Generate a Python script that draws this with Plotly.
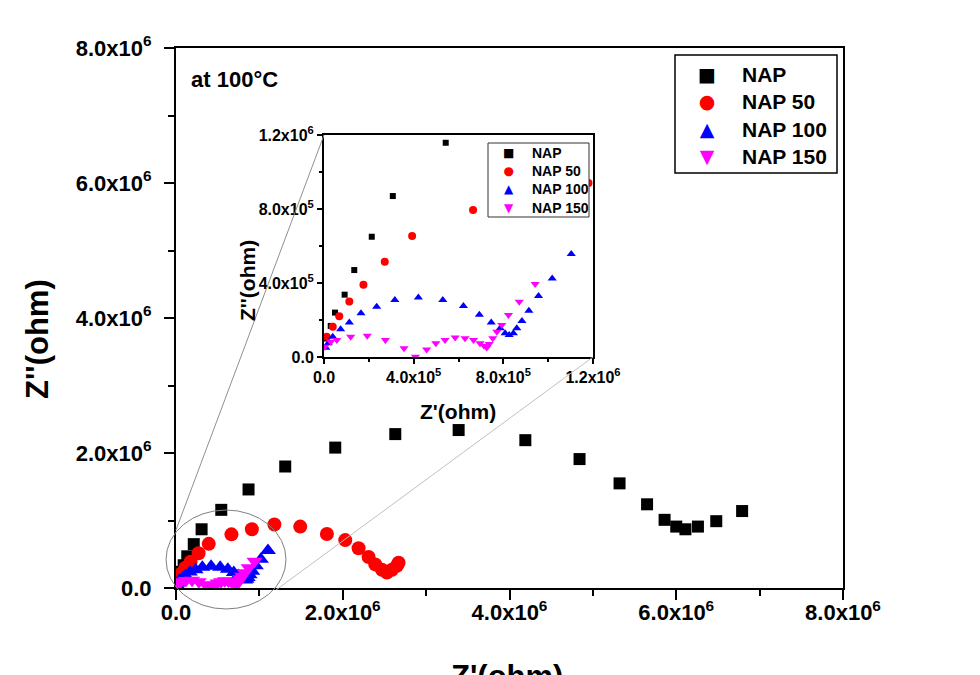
import plotly.graph_objects as go

# ---------------- data (ohm) ----------------
nap_x = [0.012e6, 0.030e6, 0.049e6, 0.092e6, 0.135e6, 0.213e6, 0.307e6, 0.543e6, 0.87e6, 1.31e6,
         1.91e6, 2.63e6, 3.39e6, 4.19e6, 4.84e6, 5.32e6, 5.65e6, 5.86e6, 6.00e6, 6.11e6,
         6.26e6, 6.48e6, 6.79e6]
nap_y = [0.10e6, 0.168e6, 0.24e6, 0.337e6, 0.47e6, 0.65e6, 0.87e6, 1.158e6, 1.46e6, 1.80e6,
         2.08e6, 2.28e6, 2.34e6, 2.19e6, 1.91e6, 1.55e6, 1.24e6, 1.01e6, 0.91e6, 0.87e6,
         0.91e6, 0.99e6, 1.14e6]

nap50_x = [0.012e6, 0.039e6, 0.068e6, 0.113e6, 0.176e6, 0.271e6, 0.393e6, 0.665e6, 0.91e6, 1.18e6,
           1.49e6, 1.81e6, 2.03e6, 2.19e6, 2.31e6, 2.39e6, 2.47e6, 2.53e6, 2.59e6, 2.65e6, 2.67e6]
nap50_y = [0.11e6, 0.164e6, 0.22e6, 0.30e6, 0.39e6, 0.515e6, 0.654e6, 0.795e6, 0.87e6, 0.94e6,
           0.91e6, 0.80e6, 0.71e6, 0.59e6, 0.46e6, 0.35e6, 0.27e6, 0.23e6, 0.27e6, 0.33e6, 0.375e6]

nap100_x = [0.008e6, 0.019e6, 0.039e6, 0.074e6, 0.113e6, 0.165e6, 0.235e6, 0.316e6, 0.421e6, 0.53e6,
            0.622e6, 0.693e6, 0.746e6, 0.786e6, 0.808e6, 0.826e6, 0.845e6, 0.86e6, 0.883e6, 0.914e6,
            0.957e6, 1.018e6, 1.103e6]
nap100_y = [0.05e6, 0.074e6, 0.11e6, 0.15e6, 0.187e6, 0.236e6, 0.272e6, 0.308e6, 0.321e6, 0.308e6,
            0.276e6, 0.229e6, 0.187e6, 0.155e6, 0.128e6, 0.119e6, 0.128e6, 0.155e6, 0.195e6, 0.25e6,
            0.33e6, 0.425e6, 0.557e6]

nap150_x = [0.004e6, 0.030e6, 0.057e6, 0.119e6, 0.193e6, 0.274e6, 0.357e6, 0.408e6, 0.458e6, 0.499e6,
            0.54e6, 0.585e6, 0.629e6, 0.667e6, 0.696e6, 0.714e6, 0.726e6, 0.737e6, 0.753e6, 0.771e6,
            0.793e6, 0.823e6, 0.871e6, 0.942e6]
nap150_y = [0.056e6, 0.083e6, 0.092e6, 0.11e6, 0.115e6, 0.092e6, 0.047e6, 0.002e6, 0.041e6, 0.074e6,
            0.092e6, 0.106e6, 0.101e6, 0.092e6, 0.074e6, 0.061e6, 0.052e6, 0.07e6, 0.101e6, 0.137e6,
            0.173e6, 0.227e6, 0.299e6, 0.395e6]

series_names = ["NAP", "NAP 50", "NAP 100", "NAP 150"]

main_tickvals = [0, 2e6, 4e6, 6e6, 8e6]
main_ticktext = ["0.0", "2.0x10<sup>6</sup>", "4.0x10<sup>6</sup>", "6.0x10<sup>6</sup>", "8.0x10<sup>6</sup>"]
inset_tickvals = [0, 4e5, 8e5, 1.2e6]
inset_ticktext = ["0.0", "4.0x10<sup>5</sup>", "8.0x10<sup>5</sup>", "1.2x10<sup>6</sup>"]

# ---------------- figure ----------------
FONT = "Liberation Sans, Arial, sans-serif"
colors = ["#000000", "#ff0000", "#0000ff", "#ff00ff"]
symbols = ["square", "circle", "triangle-up", "triangle-down"]
glyphs = ["\u25a0", "\u25cf", "\u25b2", "\u25bc"]
main_sizes = [12, 14, 14, 14]
inset_sizes = [6, 8, 8, 8]
data = [(nap_x, nap_y), (nap50_x, nap50_y), (nap100_x, nap100_y), (nap150_x, nap150_y)]

fig = go.Figure()
for (xs, ys), name, sym, col, sz in zip(data, series_names, symbols, colors, main_sizes):
    fig.add_trace(go.Scatter(x=xs, y=ys, mode="markers", name=name, showlegend=False,
                             marker=dict(symbol=sym, color=col, size=sz, line=dict(width=0)),
                             xaxis="x", yaxis="y"))
for (xs, ys), name, sym, col, sz in zip(data, series_names, symbols, colors, inset_sizes):
    fig.add_trace(go.Scatter(x=xs, y=ys, mode="markers", name=name, showlegend=False,
                             marker=dict(symbol=sym, color=col, size=sz, line=dict(width=0)),
                             xaxis="x2", yaxis="y2"))

# page-pixel geometry (page body has an 8px margin)
OFF = 8
PAGE_W, PAGE_H = 980, 675
L, R, T, B = 176, 843, 48, 588
pw, ph = R - L, B - T

def px(xp):
    return (xp - L) / pw

def py(yp):
    return (B - yp) / ph

axis_common = dict(showgrid=False, zeroline=False, showline=True, linecolor="black",
                   mirror=True, ticks="outside", tickcolor="black")

fig.update_layout(
    width=PAGE_W - OFF, height=PAGE_H - OFF,
    margin=dict(l=L - OFF, r=PAGE_W - R, t=T - OFF, b=PAGE_H - B, pad=0),
    paper_bgcolor="white", plot_bgcolor="white",
    font=dict(family=FONT, color="black"),
    showlegend=False,
    xaxis=dict(domain=[0, 1], range=[0, 8e6], anchor="y", linewidth=2, ticklen=10, tickwidth=2,
               tickvals=main_tickvals, ticktext=main_ticktext, ticklabelstandoff=-6,
               tickfont=dict(family=FONT, size=22, weight="bold"),
               minor=dict(ticks="outside", ticklen=6, tickwidth=2, dtick=1e6, tick0=0, tickcolor="black"),
               **axis_common),
    yaxis=dict(domain=[0, 1], range=[0, 8e6], anchor="x", linewidth=2, ticklen=10, tickwidth=2,
               tickvals=main_tickvals, ticktext=main_ticktext, ticklabelstandoff=8,
               tickfont=dict(family=FONT, size=22, weight="bold"),
               minor=dict(ticks="outside", ticklen=6, tickwidth=2, dtick=1e6, tick0=0, tickcolor="black"),
               **axis_common),
    xaxis2=dict(domain=[px(324), px(593)], range=[0, 1.2e6], anchor="y2", linewidth=2, ticklen=5,
                tickwidth=1.5, tickvals=inset_tickvals, ticktext=inset_ticktext,
                tickfont=dict(family=FONT, size=16, weight="bold"),
                minor=dict(ticks="outside", ticklen=3, tickwidth=1.5, dtick=2e5, tick0=0, tickcolor="black"),
                **axis_common),
    yaxis2=dict(domain=[py(357), py(135)], range=[0, 1.2e6], anchor="x2", linewidth=2, ticklen=5,
                tickwidth=1.5, tickvals=inset_tickvals, ticktext=inset_ticktext,
                tickfont=dict(family=FONT, size=16, weight="bold"),
                minor=dict(ticks="outside", ticklen=3, tickwidth=1.5, dtick=2e5, tick0=0, tickcolor="black"),
                **axis_common),
)

def legend_annots(sym_x, text_x, mid_y, fsize, sym_size):
    sym_text = "<br>".join(
        f"<span style='color:{c};font-size:{sym_size}px'>{g}</span>" for c, g in zip(colors, glyphs))
    name_text = "<br>".join(series_names)
    return [
        dict(text=sym_text, x=px(sym_x), y=py(mid_y), xref="paper", yref="paper", showarrow=False,
             font=dict(family="DejaVu Sans", size=fsize), xanchor="center", yanchor="middle", align="center"),
        dict(text=name_text, x=px(text_x), y=py(mid_y), xref="paper", yref="paper", showarrow=False,
             font=dict(family=FONT, size=fsize, weight="bold"), xanchor="left", yanchor="middle",
             align="left"),
    ]

annotations = [
    dict(text="Z''(ohm)", x=px(37), y=py(339), xref="paper", yref="paper", showarrow=False,
         textangle=-90, font=dict(family=FONT, size=31, weight="bold"), xanchor="center", yanchor="middle"),
    dict(text="Z'(ohm)", x=px(507), y=py(676), xref="paper", yref="paper", showarrow=False,
         font=dict(family=FONT, size=31, weight="bold"), xanchor="center", yanchor="middle"),
    dict(text="at 100\u00b0C", x=px(189), y=py(80), xref="paper", yref="paper", showarrow=False,
         font=dict(family=FONT, size=22, weight="bold"), xanchor="left", yanchor="middle"),
    dict(text="Z'(ohm)", x=px(458), y=py(411), xref="paper", yref="paper", showarrow=False,
         font=dict(family=FONT, size=21, weight="bold"), xanchor="center", yanchor="middle"),
    dict(text="Z''(ohm)", x=px(247), y=py(281), xref="paper", yref="paper", showarrow=False,
         textangle=-90, font=dict(family=FONT, size=21, weight="bold"), xanchor="center", yanchor="middle"),
]
annotations += legend_annots(707, 740, 115, 21, 19)
annotations += legend_annots(508, 530, 180.7, 14, 12)
fig.update_layout(annotations=annotations)

shapes = [
    # zoom ellipse and connector lines
    dict(type="circle", xref="paper", yref="paper", x0=px(166), x1=px(286), y0=py(609), y1=py(510),
         line=dict(color="#808080", width=1), layer="above"),
    dict(type="line", xref="paper", yref="paper", x0=px(176), y0=py(530), x1=px(324), y1=py(135),
         line=dict(color="#909090", width=1), layer="above"),
    dict(type="line", xref="paper", yref="paper", x0=px(276), y0=py(590), x1=px(593), y1=py(357),
         line=dict(color="#c0c0c0", width=1), layer="above"),
    # legend frames (opaque, as in the reference)
    dict(type="rect", xref="paper", yref="paper", x0=px(675), x1=px(837), y0=py(173), y1=py(55),
         line=dict(color="black", width=1.5), fillcolor="white", layer="above"),
    dict(type="rect", xref="paper", yref="paper", x0=px(488), x1=px(589), y0=py(217), y1=py(143),
         line=dict(color="#333333", width=1), fillcolor="white", layer="above"),
]
fig.update_layout(shapes=shapes)

fig.write_html("out.html")
